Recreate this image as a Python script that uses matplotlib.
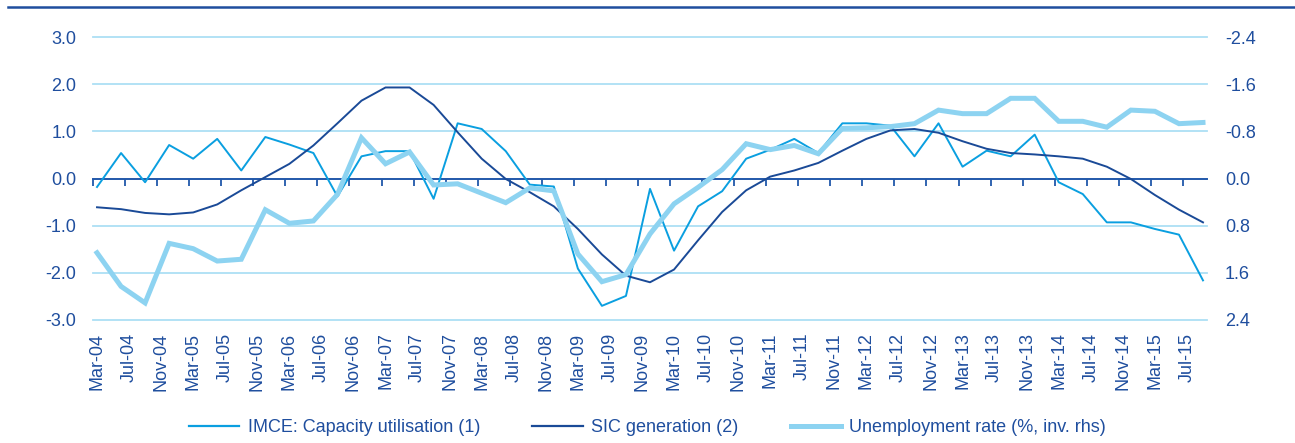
import numpy as np
import pandas as pd
import matplotlib
matplotlib.use("Agg")
import matplotlib.pyplot as plt
from matplotlib.lines import Line2D

plt.rcParams['font.family'] = ['Liberation Sans', 'DejaVu Sans']

# quarterly data, Mar-04 .. Sep-15
imce = [-0.18, 0.54, -0.08, 0.71, 0.42, 0.84, 0.17, 0.88, 0.72, 0.54, -0.38, 0.47,
        0.58, 0.58, -0.43, 1.17, 1.05, 0.58, -0.13, -0.17, -1.91, -2.70, -2.49, -0.22,
        -1.53, -0.59, -0.27, 0.42, 0.61, 0.84, 0.54, 1.17, 1.17, 1.12, 0.47, 1.17,
        0.25, 0.59, 0.47, 0.93, -0.08, -0.33, -0.93, -0.93, -1.07, -1.19, -2.16]
sic = [-0.61, -0.65, -0.73, -0.76, -0.72, -0.55, -0.25, 0.03, 0.31, 0.70, 1.17, 1.65,
       1.93, 1.93, 1.56, 0.98, 0.42, -0.01, -0.29, -0.59, -1.07, -1.61, -2.06, -2.20,
       -1.93, -1.31, -0.71, -0.25, 0.04, 0.17, 0.33, 0.59, 0.84, 1.02, 1.05, 0.97,
       0.79, 0.63, 0.54, 0.51, 0.47, 0.42, 0.25, -0.01, -0.35, -0.66, -0.93]
unemp = [1.26, 1.83, 2.11, 1.10, 1.19, 1.40, 1.37, 0.53, 0.76, 0.72, 0.27, -0.69,
         -0.25, -0.45, 0.11, 0.09, 0.25, 0.41, 0.16, 0.21, 1.28, 1.75, 1.63, 0.94,
         0.43, 0.15, -0.15, -0.59, -0.49, -0.56, -0.42, -0.85, -0.86, -0.88, -0.93, -1.16,
         -1.10, -1.10, -1.36, -1.36, -0.97, -0.97, -0.87, -1.16, -1.14, -0.93, -0.95]

tick_labels = list(pd.date_range('2004-03-01', '2015-07-01', freq='4MS').strftime('%b-%y'))
left_ticks = [3.0, 2.0, 1.0, 0.0, -1.0, -2.0, -3.0]
right_ticks = [-2.4, -1.6, -0.8, 0.0, 0.8, 1.6, 2.4]

c_text = '#1F4E9E'
c_imce = '#0A9FE0'
c_sic = '#1A4A97'
c_unemp = '#8DD3F1'
c_grid = '#ADDFF5'
c_axis = '#2158AA'

# months since Mar-04 for each quarterly point
x = np.arange(len(imce)) * 3

fig = plt.figure(figsize=(12.95, 4.43), dpi=100)
ax = fig.add_axes([93 / 1295, 1 - 320 / 443, (1207 - 93) / 1295, (320 - 37) / 443])
ax2 = ax.twinx()

ax.set_xlim(-0.5, 138.5)
ax.set_ylim(-3.0, 3.0)
ax2.set_ylim(2.4, -2.4)

for v in left_ticks:
    if v != 0:
        ax.axhline(v, color=c_grid, lw=1.3, zorder=0, clip_on=False)

ax.plot(x, imce, color=c_imce, lw=1.4, zorder=3)
ax.plot(x, sic, color=c_sic, lw=1.4, zorder=3)
ax2.plot(x, unemp, color=c_unemp, lw=3.6, solid_joinstyle='miter', zorder=3)

for a in (ax, ax2):
    for s in ('top', 'left', 'right'):
        a.spines[s].set_visible(False)
ax2.spines['bottom'].set_visible(False)

# category axis drawn on the zero line
ax.spines['bottom'].set_position(('data', 0))
ax.spines['bottom'].set_color(c_axis)
ax.spines['bottom'].set_linewidth(1.4)
ax.spines['bottom'].set_zorder(2)
ax.set_xticks(np.arange(-0.5, 138.5, 4))
ax.tick_params(axis='x', direction='out', length=5, width=1.3, color=c_axis,
               labelbottom=False)

ax.set_yticks(left_ticks)
ax.set_yticklabels([f'{v:.1f}' for v in left_ticks])
ax.tick_params(axis='y', length=0, pad=12, labelsize=13, labelcolor=c_text)
ax2.set_yticks(right_ticks)
ax2.set_yticklabels([f'{v:.1f}' for v in right_ticks])
ax2.tick_params(axis='y', length=0, pad=13, labelsize=13, labelcolor=c_text)

# date labels under the plot area
sec = ax.secondary_xaxis('bottom')
sec.spines['bottom'].set_visible(False)
sec.set_xticks(np.arange(0, 137, 4))
sec.set_xticklabels(tick_labels, rotation=90)
sec.tick_params(axis='x', length=0, pad=9, labelsize=13, labelcolor=c_text)

handles = [Line2D([], [], color=c_imce, lw=1.6),
           Line2D([], [], color=c_sic, lw=1.6),
           Line2D([], [], color=c_unemp, lw=3.6)]
names = ['IMCE: Capacity utilisation (1)', 'SIC generation (2)',
         'Unemployment rate (%, inv. rhs)']
leg = fig.legend(handles, names, loc='center', bbox_to_anchor=(0.5, 1 - 428 / 443),
                 ncol=3, frameon=False, fontsize=13, handlelength=2.8,
                 handletextpad=0.45, columnspacing=2.9)
for t in leg.get_texts():
    t.set_color(c_text)

fig.add_artist(Line2D([8 / 1295, 1], [1 - 7 / 443, 1 - 7 / 443],
                      color='#1F4E9E', lw=1.8, transform=fig.transFigure))

fig.savefig('out.png', dpi=100)
